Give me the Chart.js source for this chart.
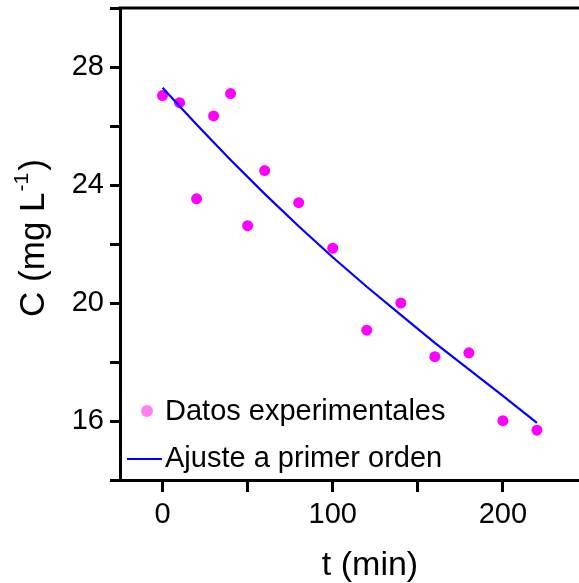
<!DOCTYPE html>
<html>
<head>
<meta charset="utf-8">
<script src="https://cdn.jsdelivr.net/npm/chart.js@4.4.1/dist/chart.umd.min.js"></script>
<style>
  html, body { margin: 0; padding: 0; background: #fff; overflow: hidden; }
  #wrap { width: 600px; height: 583px; position: relative; }
</style>
</head>
<body>
<div id="wrap"><canvas id="c"></canvas></div>
<script>
// Experimental data
const tExp = [0, 10, 20, 30, 40, 50, 60, 80, 100, 120, 140, 160, 180, 200, 220];
const cExp = [27.03, 26.79, 23.53, 26.34, 27.1, 22.62, 24.49, 23.4, 21.86, 19.08, 20.0, 18.18, 18.31, 16.01, 15.69];
// First-order fit curve
const tFit = [0, 20, 40, 60, 80, 100, 120, 140, 160, 180, 200, 220];
const cFit = [27.3, 26.05, 24.85, 23.7, 22.6, 21.55, 20.55, 19.6, 18.65, 17.75, 16.85, 15.94];
// Ticks
const xTicks = [0, 50, 100, 150, 200];
const xLabels = [0, 100, 200];
const yTicks = [14, 16, 18, 20, 22, 24, 26, 28, 30];
const yLabels = [16, 20, 24, 28];
const labels = ['Datos experimentales', 'Ajuste a primer orden'];

const mainFont = '"Liberation Sans", Arial, sans-serif';
const tickFont = { family: mainFont, size: 29 };

const extras = {
  id: 'extras',
  afterDraw(chart) {
    const ctx = chart.ctx;
    const a = chart.chartArea;
    ctx.save();
    // top frame line
    ctx.strokeStyle = '#000';
    ctx.lineWidth = 3;
    ctx.beginPath();
    ctx.moveTo(a.left - 1.5, a.top);
    ctx.lineTo(a.right, a.top);
    ctx.stroke();

    // y title with superscript
    ctx.fillStyle = '#000';
    ctx.translate(44, 238);
    ctx.rotate(-Math.PI / 2);
    const big = '35px ' + mainFont;
    const small = '21px ' + mainFont;
    ctx.font = big;
    const p1 = 'C (mg L';
    const w1 = ctx.measureText(p1).width;
    ctx.font = small;
    const sup = '-1';
    const w2 = ctx.measureText(sup).width;
    ctx.font = big;
    const p3 = ')';
    const w3 = ctx.measureText(p3).width;
    const total = w1 + w2 + 3 + w3;
    let x = -total / 2;
    ctx.textBaseline = 'alphabetic';
    ctx.textAlign = 'left';
    ctx.fillText(p1, x, 0);
    x += w1 + 1;
    ctx.font = small;
    ctx.fillText(sup, x, -16);
    x += w2 + 2;
    ctx.font = big;
    ctx.fillText(p3, x, 0);
    ctx.restore();

    // x title
    ctx.save();
    ctx.fillStyle = '#000';
    ctx.font = '34px ' + mainFont;
    ctx.textAlign = 'center';
    ctx.textBaseline = 'alphabetic';
    ctx.fillText('t (min)', 370, 575);
    ctx.restore();

    // legend
    ctx.save();
    ctx.font = '29px ' + mainFont;
    ctx.fillStyle = '#ff80f4';
    ctx.beginPath();
    ctx.arc(147, 411, 6, 0, Math.PI * 2);
    ctx.fill();
    ctx.strokeStyle = '#0000ff';
    ctx.lineWidth = 2;
    ctx.beginPath();
    ctx.moveTo(127, 459);
    ctx.lineTo(162, 459);
    ctx.stroke();
    ctx.fillStyle = '#000';
    ctx.textAlign = 'left';
    ctx.textBaseline = 'middle';
    ctx.fillText(labels[0], 165, 412);
    ctx.fillText(labels[1], 165, 459);
    ctx.restore();
  }
};

new Chart(document.getElementById('c'), {
  type: 'scatter',
  data: {
    datasets: [
      {
        label: labels[1],
        data: tFit.map((t, i) => ({ x: t, y: cFit[i] })),
        showLine: true,
        borderColor: '#0000ff',
        borderWidth: 2.2,
        pointRadius: 0,
        tension: 0,
        fill: false
      },
      {
        label: labels[0],
        data: tExp.map((t, i) => ({ x: t, y: cExp[i] })),
        backgroundColor: '#ff00ff',
        borderColor: '#ff00ff',
        pointRadius: 5.5,
        pointBorderWidth: 0,
        showLine: false
      }
    ]
  },
  options: {
    responsive: true,
    maintainAspectRatio: false,
    animation: false,
    layout: { padding: { top: 8, right: 12, left: 0, bottom: 0 } },
    plugins: { legend: { display: false }, tooltip: { enabled: false } },
    scales: {
      x: {
        type: 'linear',
        min: -25,
        max: 250,
        afterBuildTicks: s => { s.ticks = xTicks.map(v => ({ value: v })); },
        afterFit: s => { s.height = 103; s.paddingLeft = 0; s.paddingRight = 0; },
        ticks: {
          color: '#000',
          font: tickFont,
          padding: 6,
          maxRotation: 0,
          autoSkip: false,
          callback: v => xLabels.includes(v) ? String(v) : ''
        },
        grid: { drawOnChartArea: false, drawTicks: true, tickLength: 12, tickWidth: 3, tickColor: '#000' },
        border: { display: true, color: '#000', width: 3 }
      },
      y: {
        type: 'linear',
        min: 14,
        max: 30,
        afterBuildTicks: s => { s.ticks = yTicks.map(v => ({ value: v })); },
        afterFit: s => { s.width = 120; s.paddingTop = 0; s.paddingBottom = 0; },
        ticks: {
          color: '#000',
          font: tickFont,
          padding: 6,
          autoSkip: false,
          callback: v => yLabels.includes(v) ? String(v) : ''
        },
        grid: { drawOnChartArea: false, drawTicks: true, tickLength: 10, tickWidth: 3, tickColor: '#000' },
        border: { display: true, color: '#000', width: 3 }
      }
    }
  },
  plugins: [extras]
});
</script>
</body>
</html>
